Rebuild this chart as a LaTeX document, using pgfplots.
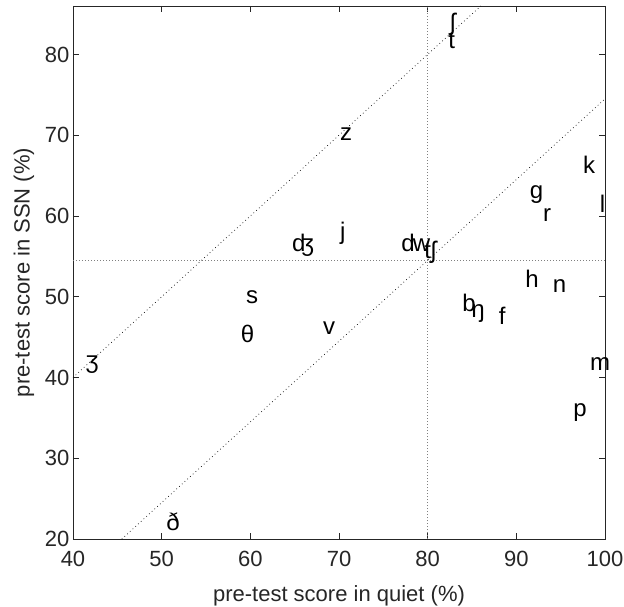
\documentclass[border=0pt]{standalone}
\usepackage{fontspec}
\setmainfont{Liberation Sans}
\usepackage{pgfplots}
\usepackage{pgfplotstable}
\pgfplotsset{compat=1.18}
\definecolor{axgray}{gray}{0.15}

% phoneme labels: left edge / vertical middle of each label
\pgfplotstableread{
x y lab
41.4 42.1 ʒ
50.5 22.0 ð
58.9 45.2 θ
59.5 50.1 s
64.7 56.5 ʤ
68.2 46.2 v
70.1 58.0 j
70.1 70.3 z
77.0 56.5 d
78.3 56.5 w
79.6 55.65 tʃ
82.3 81.7 t
82.5 83.9 ʃ
83.9 49.1 b
84.9 48.4 ŋ
88.0 47.5 f
91.0 52.1 h
91.5 63.1 g
93.0 60.2 r
94.1 51.4 n
96.4 36.1 p
97.5 66.2 k
98.3 41.8 m
99.4 61.3 l
}\phon

\begin{document}
\begin{tikzpicture}
\begin{axis}[
    width=532pt, height=533pt, scale only axis,
    xmin=40, xmax=100, ymin=20, ymax=86,
    xtick={40,50,...,100}, ytick={20,30,...,80},
    axis line style={axgray, line width=0.6pt},
    tick style={axgray, line width=0.6pt},
    major tick length=6pt,
    tick align=inside,
    xlabel={pre-test score in quiet (\%)},
    ylabel={pre-test score in SSN (\%)},
    label style={font=\fontsize{22}{26}\selectfont, text=axgray},
    ticklabel style={font=\fontsize{22}{26}\selectfont, text=axgray},
    xticklabel style={yshift=-9pt},
    xlabel style={yshift=-12pt},
    ylabel style={yshift=4pt},
    /pgf/number format/assume math mode=true,
    clip=false,
]
\addplot[gray, line width=0.8pt, dash pattern=on 0.8pt off 2.2pt] coordinates {(40,54.45) (100,54.45)};
\addplot[gray, line width=0.8pt, dash pattern=on 0.8pt off 2.2pt] coordinates {(80,20) (80,86)};
\addplot[black, line width=0.7pt, dash pattern=on 0.7pt off 3pt] coordinates {(40,40) (86,86)};
\addplot[black, line width=0.7pt, dash pattern=on 0.7pt off 3pt] coordinates {(45.5,20) (100,74.5)};
\addplot[draw=none, mark=none, nodes near coords, point meta=explicit symbolic,
    nodes near coords style={anchor=west, inner sep=0pt, text height=19pt, text depth=4pt,
        font=\fontsize{24}{28}\selectfont, text=black}]
    table[x=x, y=y, meta=lab] {\phon};
\end{axis}
\pgfresetboundingbox
\path ([shift={(-73pt,-67pt)}]current axis.south west) rectangle ([shift={(19pt,6pt)}]current axis.north east);
\end{tikzpicture}
\end{document}
